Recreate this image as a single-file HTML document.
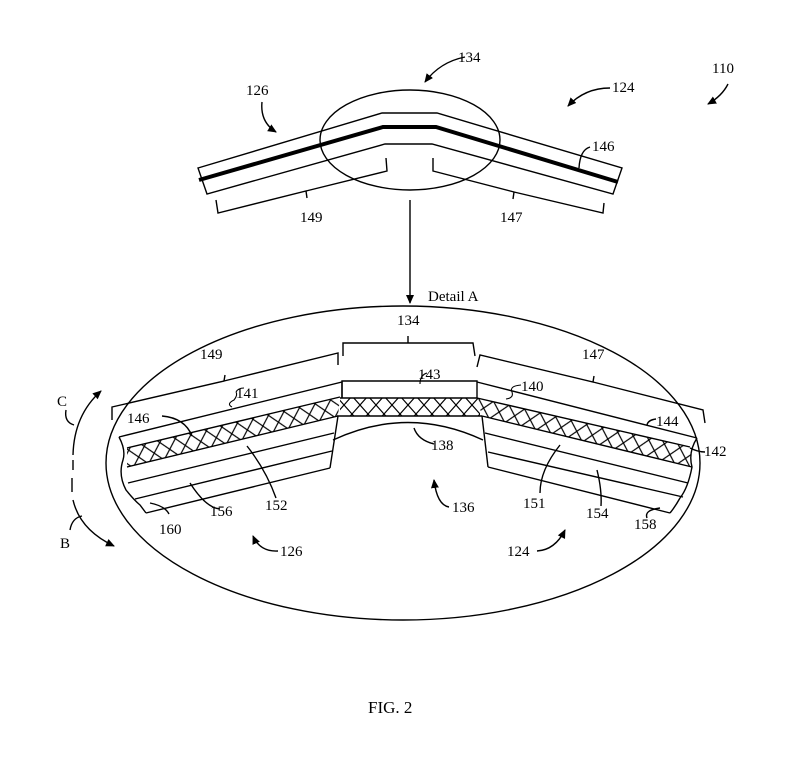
<!DOCTYPE html>
<html><head><meta charset="utf-8"><style>
html,body{margin:0;padding:0;background:#fff;}
svg{display:block;}
text{font-family:"Liberation Serif",serif;font-size:15px;fill:#000;}
</style></head><body>
<svg width="800" height="766" viewBox="0 0 800 766" xmlns="http://www.w3.org/2000/svg">
<defs>
<pattern id="h" patternUnits="userSpaceOnUse" width="16" height="18">
<path d="M0,0 L16,18 M16,0 L0,18" stroke="#000" stroke-width="1.2" fill="none"/>
</pattern>
<pattern id="hl" patternUnits="userSpaceOnUse" width="16" height="18" patternTransform="rotate(-14)">
<path d="M0,0 L16,18 M16,0 L0,18" stroke="#000" stroke-width="1.2" fill="none"/>
</pattern>
<pattern id="hr" patternUnits="userSpaceOnUse" width="16" height="18" patternTransform="rotate(14)">
<path d="M0,0 L16,18 M16,0 L0,18" stroke="#000" stroke-width="1.2" fill="none"/>
</pattern>
<marker id="a" markerWidth="10" markerHeight="10" refX="8" refY="5" orient="auto" markerUnits="userSpaceOnUse">
<path d="M0,1 L9,5 L0,9 z" fill="#000"/>
</marker>
</defs>
<g fill="none" stroke="#000" stroke-width="1.4">
<path d="M198,168 L382,113 L437,113 L622,168 L613,194 L432,144 L385,144 L207,194 Z"/>
<path d="M199,180 L383,127 L436,127 L618,182" stroke-width="4"/>
<ellipse cx="410" cy="140" rx="90" ry="50"/>
<path d="M216,200 L218,213 L306,191 L307,198 M306,191 L387,171 L386,158"/>
<path d="M433,158 L433,171 L514,192 L513,199 M514,192 L603,213 L604,203"/>
<path d="M410,200 L410,303" marker-end="url(#a)"/>
<path d="M465,57 Q440,62 425,82" marker-end="url(#a)"/>
<path d="M262,102 Q260,122 276,132" marker-end="url(#a)"/>
<path d="M610,88 Q585,88 568,106" marker-end="url(#a)"/>
<path d="M728,84 Q722,96 708,104" marker-end="url(#a)"/>
<path d="M590,147 Q580,150 579,168"/>
<ellipse cx="403" cy="463" rx="297" ry="157"/>
<path d="M112,420 L112,407 L224,381 L225,375 M224,381 L338,353 L338,365"/>
<path d="M343,356 L343,343 L408,343 L408,336 M408,343 L473,343 L475,356"/>
<path d="M477,367 L480,355 L593,382 L594,376 M593,382 L703,410 L705,423"/>
<path d="M342,398 L342,381 L477,381 L477,398"/>
<path d="M340,398 L477,398 M337,416 L482,416"/>
<rect x="340" y="398" width="140" height="18" fill="url(#h)" stroke="none"/>
<path d="M333,440 Q408,405 483,440"/>
<path d="M127,448 L340,397 L338,416 L127,467 Z" fill="url(#hl)" stroke="none"/>
<path d="M119,437 L342,382 L342,398"/>
<path d="M127,448 L340,397 M127,467 L338,416 M128,483 L334,433 M135,499 L332,451 M146,513 L330,468"/>
<path d="M338,416 L330,468"/>
<path d="M119,437 Q126,450 123,460 Q118,475 126,490 Q134,500 140,505 L146,513"/>
<path d="M477,398 L690,447 L692,467 L482,416 Z" fill="url(#hr)" stroke="none"/>
<path d="M477,382 L697,438"/>
<path d="M477,398 L690,447 M482,416 L692,467 M485,433 L688,483 M488,452 L683,497 M488,467 L670,513"/>
<path d="M482,416 L488,467"/>
<path d="M697,438 Q688,452 692,467 Q688,488 680,498 Q675,507 670,513"/>
<path d="M73,455 Q74,415 101,391" marker-end="url(#a)"/>
<path d="M72,478 L72,492"/>
<path d="M73,460 L73,470" />
<path d="M73,500 Q80,530 114,546" marker-end="url(#a)"/>
<path d="M66,410 Q64,422 74,425"/>
<path d="M70,530 Q72,518 82,516"/>
<path d="M232,407 Q226,404 234,400 Q238,395 236,392 M236,392 Q238,388 244,388" stroke-width="1.1"/>
<path d="M162,416 Q185,418 192,436"/>
<path d="M427,373 Q420,375 420,384" stroke-width="1.1"/>
<path d="M521,385 Q509,386 512,392 Q514,398 506,399" stroke-width="1.1"/>
<path d="M656,419 Q648,420 647,425"/>
<path d="M705,452 Q698,452 690,448"/>
<path d="M434,444 Q418,440 414,428"/>
<path d="M449,507 Q437,505 434,480" marker-end="url(#a)"/>
<path d="M276,498 Q266,470 247,446"/>
<path d="M220,509 Q206,508 190,483"/>
<path d="M169,514 Q165,506 150,503"/>
<path d="M540,493 Q540,470 560,445"/>
<path d="M601,506 Q602,490 597,470"/>
<path d="M647,518 Q644,510 660,508"/>
<path d="M278,551 Q260,552 253,536" marker-end="url(#a)"/>
<path d="M537,551 Q555,550 565,530" marker-end="url(#a)"/>
</g>
<g>
<text x="458" y="62">134</text>
<text x="246" y="95">126</text>
<text x="612" y="92">124</text>
<text x="712" y="73">110</text>
<text x="592" y="151">146</text>
<text x="300" y="222">149</text>
<text x="500" y="222">147</text>
<text x="428" y="301">Detail A</text>
<text x="397" y="325">134</text>
<text x="200" y="359">149</text>
<text x="582" y="359">147</text>
<text x="236" y="398">141</text>
<text x="127" y="423">146</text>
<text x="418" y="379">143</text>
<text x="521" y="391">140</text>
<text x="656" y="426">144</text>
<text x="704" y="456">142</text>
<text x="431" y="450">138</text>
<text x="452" y="512">136</text>
<text x="265" y="510">152</text>
<text x="210" y="516">156</text>
<text x="159" y="534">160</text>
<text x="523" y="508">151</text>
<text x="586" y="518">154</text>
<text x="634" y="529">158</text>
<text x="280" y="556">126</text>
<text x="507" y="556">124</text>
<text x="57" y="406">C</text>
<text x="60" y="548">B</text>
<text x="368" y="713" style="font-size:17px">FIG. 2</text>
</g>
</svg>
</body></html>
